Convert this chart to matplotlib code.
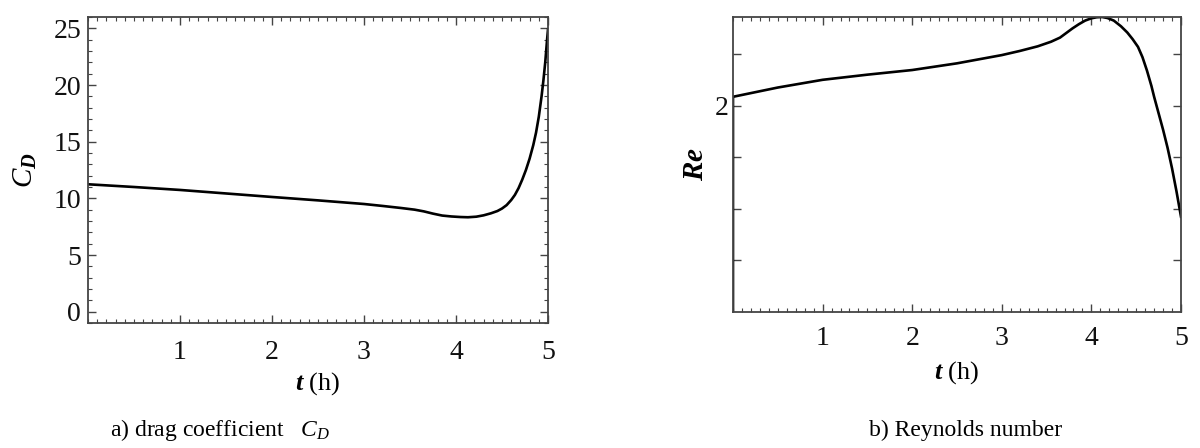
import matplotlib
matplotlib.use("Agg")
import matplotlib.pyplot as plt
from matplotlib.ticker import FixedLocator, MultipleLocator, FixedFormatter

plt.rcParams['font.family'] = ['Liberation Serif', 'DejaVu Serif']
plt.rcParams['mathtext.fontset'] = 'custom'
plt.rcParams['mathtext.rm'] = 'Liberation Serif'
plt.rcParams['mathtext.it'] = 'Liberation Serif:italic'
plt.rcParams['mathtext.bf'] = 'Liberation Serif:bold'
plt.rcParams['mathtext.bfit'] = 'Liberation Serif:italic:bold'

# ---- data ----
t_cd = [0, 0.5, 1, 1.5, 2, 2.5, 3, 3.2, 3.4, 3.55, 3.65, 3.75, 3.85, 3.95,
        4.05, 4.13, 4.22, 4.3, 4.38, 4.45, 4.5, 4.55, 4.6, 4.64, 4.68, 4.72,
        4.76, 4.8, 4.84, 4.87, 4.9, 4.93, 4.95, 4.97, 4.99, 5.0]
cd = [11.24, 11.0, 10.74, 10.43, 10.12, 9.82, 9.5, 9.33, 9.15, 9.0, 8.85,
      8.65, 8.48, 8.4, 8.35, 8.33, 8.38, 8.5, 8.68, 8.88, 9.1, 9.4, 9.85,
      10.3, 10.9, 11.65, 12.5, 13.5, 14.7, 15.8, 17.2, 19.0, 20.4, 22.0,
      24.0, 24.9]

t_re = [0, 0, 0.5, 1, 1.5, 2, 2.5, 3, 3.2, 3.4, 3.55, 3.65, 3.72, 3.79,
        3.86, 3.93, 4.0, 4.06, 4.12, 4.18, 4.25, 4.33, 4.4, 4.46, 4.52,
        4.57, 4.62, 4.67, 4.7, 4.75, 4.8, 4.85, 4.9, 4.95, 5.0]
re = [1.55, 2.017, 2.035, 2.050, 2.060, 2.069, 2.082, 2.098, 2.106, 2.115,
      2.124, 2.132, 2.141, 2.150, 2.158, 2.165, 2.1695, 2.1715, 2.172,
      2.170, 2.165, 2.154, 2.142, 2.129, 2.114, 2.094, 2.068, 2.038, 2.017,
      1.985, 1.953, 1.918, 1.878, 1.833, 1.784]

x_ticks = [1, 2, 3, 4, 5]
cd_ticks = [0, 5, 10, 15, 20, 25]
re_ticks = [1.7, 1.8, 1.9, 2.0, 2.1]
re_tick_labels = ['', '', '', '2', '']

fig = plt.figure(figsize=(12, 4.48), dpi=100)
W, H = 1200, 448
ax1 = fig.add_axes([88 / W, (H - 323) / H, (548 - 88) / W, (323 - 17) / H])
ax2 = fig.add_axes([733 / W, (H - 312) / H, (1181 - 733) / W, (312 - 17) / H])

spine_c = '#444444'
for ax in (ax1, ax2):
    for s in ax.spines.values():
        s.set_color(spine_c)
        s.set_linewidth(1.3)
    ax.tick_params(which='both', direction='in', top=True, right=True,
                   color=spine_c, labelcolor='#111111', labelsize=20)
    ax.tick_params(which='major', length=6, width=1.0)
    ax.tick_params(which='minor', length=3, width=0.8)
    ax.set_xlim(0, 5)
    ax.xaxis.set_major_locator(FixedLocator(x_ticks))
    ax.xaxis.set_minor_locator(MultipleLocator(0.1))

# left panel
ax1.plot(t_cd, cd, color='black', lw=1.9)
ax1.set_ylim(-1, 26)
ax1.yaxis.set_major_locator(FixedLocator(cd_ticks))
ax1.yaxis.set_minor_locator(MultipleLocator(1))
ax1.tick_params(axis='x', pad=12)
ax1.tick_params(axis='y', pad=5)
ax1.set_xlabel(r'$\mathbfit{t}$ (h)', fontsize=19, labelpad=4)
ax1.set_ylabel(r'$C_{\mathbfit{D}}$', fontsize=21, labelpad=10)

# right panel
ax2.plot(t_re, re, color='black', lw=1.9)
ax2.set_ylim(1.599, 2.172)
ax2.yaxis.set_major_locator(FixedLocator(re_ticks))
ax2.yaxis.set_major_formatter(FixedFormatter(re_tick_labels))
ax2.tick_params(axis='x', pad=10)
ax2.tick_params(axis='y', pad=3)
ax2.set_xlabel(r'$\mathbfit{t}$ (h)', fontsize=19, labelpad=6)
ax2.set_ylabel(r'$\mathbfit{Re}$', fontsize=21, labelpad=4)

fig.text(220 / W, 1 - 430 / H, r'a) drag coefficient   $C_D$', fontsize=17,
         ha='center', va='center')
fig.text(966 / W, 1 - 430 / H, 'b) Reynolds number', fontsize=17,
         ha='center', va='center')

fig.savefig('out.png', dpi=100)
